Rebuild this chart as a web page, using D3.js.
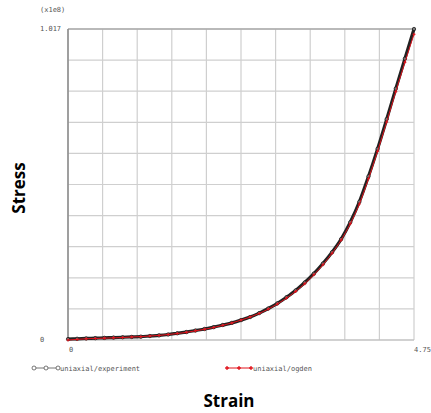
<!DOCTYPE html>
<html>
<head>
<meta charset="utf-8">
<script src="https://cdn.jsdelivr.net/npm/d3@7"></script>
<style>
    html, body { margin: 0; padding: 0; background: #fff; }
    svg { display: block; }
    .tick-label { font-family: 'DejaVu Sans Mono', monospace; font-size: 7px; fill: #555; }
    .axis-title { font-family: 'Open Sans', sans-serif; font-weight: bold; font-size: 17px; fill: #000; }
</style>
</head>
<body>
<div id="chart"></div>
<script>
'use strict';

// Strain values (shared by both series)
var strain = [0, 0.125, 0.25, 0.375, 0.5, 0.625, 0.75, 0.875, 1.0, 1.125, 1.25, 1.375, 1.5, 1.625,
    1.75, 1.875, 2.0, 2.125, 2.25, 2.375, 2.5, 2.625, 2.75, 2.875, 3.0, 3.125, 3.25, 3.375, 3.5,
    3.625, 3.75, 3.875, 4.0, 4.125, 4.25, 4.375, 4.5, 4.625, 4.75];

// Stress (x1e8)
var experiment = [0.003, 0.004, 0.005, 0.006, 0.007, 0.008, 0.009, 0.010, 0.011, 0.013, 0.015, 0.018,
    0.022, 0.026, 0.031, 0.036, 0.042, 0.049, 0.056, 0.065, 0.075, 0.088, 0.103, 0.120, 0.140, 0.162,
    0.188, 0.217, 0.250, 0.287, 0.330, 0.385, 0.452, 0.535, 0.625, 0.722, 0.822, 0.920, 1.017];

var ogden = [0.000, 0.002, 0.004, 0.005, 0.006, 0.007, 0.008, 0.010, 0.011, 0.013, 0.015, 0.018,
    0.021, 0.025, 0.030, 0.035, 0.041, 0.048, 0.056, 0.065, 0.075, 0.087, 0.101, 0.118, 0.137, 0.159,
    0.184, 0.213, 0.246, 0.284, 0.327, 0.380, 0.445, 0.527, 0.617, 0.713, 0.812, 0.908, 1.000];

var seriesNames = ['uniaxial/experiment', 'uniaxial/ogden'];
var xTickLabels = ['0', '4.75'];
var yTickLabels = ['0', '1.017'];
var yUnitLabel = '(x1e8)';

var width = 431,
    height = 413,
    plot = { left: 68, right: 414, top: 29, bottom: 340 };

var x = d3.scaleLinear().domain([0, 4.75]).range([plot.left, plot.right]),
    y = d3.scaleLinear().domain([0, 1.017]).range([plot.bottom, plot.top]);

var svg = d3.select('#chart').append('svg')
    .attr('width', width)
    .attr('height', height);

// Grid: 10 divisions each way
var divisions = d3.range(0, 11);

svg.append('g').selectAll('line.vgrid')
    .data(divisions)
    .enter().append('line')
    .attr('x1', function (d) { return x(4.75 * d / 10); })
    .attr('x2', function (d) { return x(4.75 * d / 10); })
    .attr('y1', plot.top)
    .attr('y2', plot.bottom)
    .style('stroke', '#cfcfcf')
    .style('stroke-width', 1.2);

svg.append('g').selectAll('line.hgrid')
    .data(divisions)
    .enter().append('line')
    .attr('x1', plot.left)
    .attr('x2', plot.right)
    .attr('y1', function (d) { return y(1.017 * d / 10); })
    .attr('y2', function (d) { return y(1.017 * d / 10); })
    .style('stroke', '#cfcfcf')
    .style('stroke-width', 1.2);

// Frame
svg.append('line')
    .attr('x1', plot.left).attr('x2', plot.right)
    .attr('y1', plot.top).attr('y2', plot.top)
    .style('stroke', '#aaa').style('stroke-width', 1.5);

svg.append('line')
    .attr('x1', plot.left).attr('x2', plot.left)
    .attr('y1', plot.top).attr('y2', plot.bottom)
    .style('stroke', '#888').style('stroke-width', 1.5);

svg.append('line')
    .attr('x1', plot.left).attr('x2', plot.right)
    .attr('y1', plot.bottom).attr('y2', plot.bottom)
    .style('stroke', '#bbb').style('stroke-width', 1.2);

// Tick labels
svg.append('text').attr('class', 'tick-label')
    .attr('x', 40).attr('y', 12).text(yUnitLabel);

svg.append('text').attr('class', 'tick-label')
    .attr('x', 40).attr('y', y(1.017) + 2).text(yTickLabels[1]);

svg.append('text').attr('class', 'tick-label')
    .attr('x', 40).attr('y', y(0) + 2).text(yTickLabels[0]);

svg.append('text').attr('class', 'tick-label')
    .attr('x', x(0) + 1).attr('y', plot.bottom + 12).text(xTickLabels[0]);

svg.append('text').attr('class', 'tick-label')
    .attr('x', x(4.75)).attr('y', plot.bottom + 12).text(xTickLabels[1]);

// Series
var expData = strain.map(function (s, i) { return { x: s, y: experiment[i] }; }),
    ogdenData = strain.map(function (s, i) { return { x: s, y: ogden[i] }; });

var line = d3.line()
    .x(function (d) { return x(d.x); })
    .y(function (d) { return y(d.y); })
    .curve(d3.curveMonotoneX);

svg.append('path')
    .datum(expData)
    .attr('d', line)
    .style('fill', 'none')
    .style('stroke', '#222')
    .style('stroke-width', 3.2);

svg.append('g').selectAll('circle')
    .data(expData)
    .enter().append('circle')
    .attr('cx', function (d) { return x(d.x); })
    .attr('cy', function (d) { return y(d.y); })
    .attr('r', 1.7)
    .style('fill', '#777')
    .style('stroke', '#111')
    .style('stroke-width', 0.7);

svg.append('path')
    .datum(ogdenData)
    .attr('d', line)
    .style('fill', 'none')
    .style('stroke', '#e0121b')
    .style('stroke-width', 1);

var plus = d3.symbol().type(d3.symbolCross).size(5);

svg.append('g').selectAll('path.plus')
    .data(ogdenData)
    .enter().append('path')
    .attr('transform', function (d) { return 'translate(' + x(d.x) + ',' + y(d.y) + ')'; })
    .attr('d', plus)
    .style('fill', '#e0121b');

// Legend
function legendItem(x0, color, marker, label) {
    var g = svg.append('g').attr('transform', 'translate(' + x0 + ',368)');
    g.append('line')
        .attr('x1', 0).attr('x2', 24)
        .attr('y1', 0).attr('y2', 0)
        .style('stroke', color).style('stroke-width', 1);
    [0, 12, 24].forEach(function (mx) {
        if (marker === 'circle') {
            g.append('circle').attr('cx', mx).attr('cy', 0).attr('r', 2)
                .style('fill', '#fff').style('stroke', '#555').style('stroke-width', 0.8);
        } else {
            g.append('path').attr('transform', 'translate(' + mx + ',0)')
                .attr('d', d3.symbol().type(d3.symbolCross).size(8))
                .style('fill', color);
        }
    });
    g.append('text').attr('class', 'tick-label')
        .attr('x', 26).attr('y', 2.5).text(label);
}

legendItem(34, '#777', 'circle', seriesNames[0]);
legendItem(227, '#e0121b', 'plus', seriesNames[1]);

// Axis titles
svg.append('text').attr('class', 'axis-title')
    .attr('transform', 'translate(25,188) rotate(-90)')
    .attr('text-anchor', 'middle')
    .text('Stress');

svg.append('text').attr('class', 'axis-title')
    .attr('x', 229).attr('y', 407)
    .attr('text-anchor', 'middle')
    .text('Strain');
</script>
</body>
</html>
